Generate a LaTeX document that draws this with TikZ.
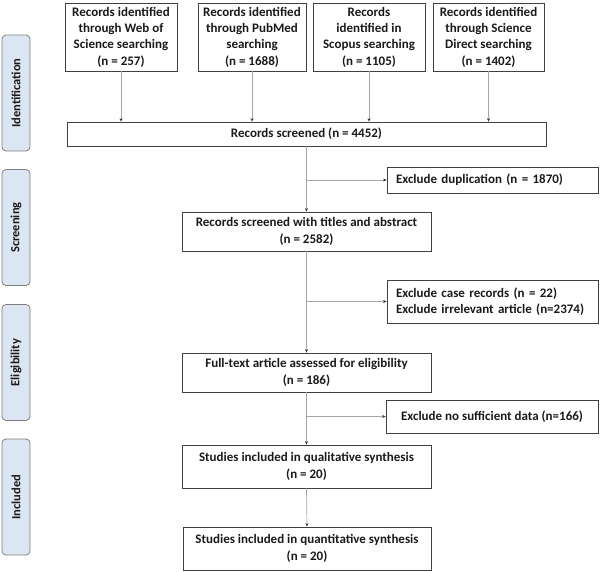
\documentclass[tikz,border=0pt]{standalone}
\usepackage{fontspec}
\setmainfont{Carlito}
\usetikzlibrary{arrows.meta}
\definecolor{tabfill}{HTML}{DCE6F2}
\definecolor{tabline}{HTML}{7F7F7F}
\definecolor{boxline}{HTML}{404040}
\definecolor{lineg}{HTML}{A6A6A6}
\definecolor{txt}{HTML}{1A1A1A}
\begin{document}
\begin{tikzpicture}[x=1pt,y=-1pt,
  box/.style={draw=boxline,line width=0.8pt,inner sep=0pt,align=center,text=txt,
    font=\bfseries\fontsize{13}{16.3}\selectfont},
  tab/.style={draw=tabline,fill=tabfill,line width=0.8pt,rounded corners=4pt,rotate=90,
    minimum width=116pt,minimum height=28pt,inner sep=0pt,text=txt,
    font=\bfseries\fontsize{12.5}{15}\selectfont},
  conn/.style={draw=lineg,line width=0.7pt,-{Stealth[length=3.5pt,width=3pt,color=black!80]}},
  plain/.style={draw=lineg,line width=0.7pt}]
\useasboundingbox (0,0) rectangle (600,571);
% phase tabs
\node[tab] (t1) at (16,93) {Identification};
\node[tab] (t2) at (16,227.5) {Screening};
\node[tab] (t3) at (16,362.5) {Eligibility};
\node[tab] (t4) at (16,497) {Included};
% top boxes
\node[box,minimum width=112pt,minimum height=68pt] (b1) at (121,37)
  {Records identified\\through Web of\\Science searching\\(n = 257)};
\node[box,minimum width=108pt,minimum height=68pt] (b2) at (252,37)
  {Records identified\\through PubMed\\searching\\(n = 1688)};
\node[box,minimum width=112pt,minimum height=68pt] (b3) at (369,37)
  {Records\\identified in\\Scopus searching\\(n = 1105)};
\node[box,minimum width=111pt,minimum height=68pt] (b4) at (488.5,37)
  {Records identified\\through Science\\Direct searching\\(n = 1402)};
% main column
\node[box,minimum width=479pt,minimum height=24pt] (scr) at (306.5,134)
  {Records screened (n = 4452)};
\node[box,minimum width=249pt,minimum height=39pt] (tit) at (306.5,231.5)
  {Records screened with titles and abstract\\(n = 2582)};
\node[box,minimum width=249pt,minimum height=39pt] (full) at (306.5,372.5)
  {Full-text article assessed for eligibility\\(n = 186)};
\node[box,minimum width=249pt,minimum height=43pt] (qual) at (306.5,466.5)
  {Studies included in qualitative synthesis\\(n = 20)};
\node[box,minimum width=248pt,minimum height=43pt] (quant) at (307,548.5)
  {Studies included in quantitative synthesis\\(n = 20)};
% exclusion boxes
\node[box,minimum width=211pt,minimum height=26pt,text width=193pt,align=left] (dup) at (492.5,180)
  {Exclude duplication (n = 1870)};
\node[box,minimum width=211pt,minimum height=43pt,text width=193pt,align=left] (case) at (492.5,301.5)
  {Exclude case records (n = 22)\\Exclude irrelevant article (n=2374)};
\node[box,minimum width=212pt,minimum height=33pt] (nosuf) at (492,416.5)
  {Exclude no sufficient data (n=166)};
% connectors
\foreach \b in {b1,b2,b3,b4} \draw[conn] (\b.south) -- (\b.south |- scr.north);
\coordinate (j1) at (scr.south |- dup.west);
\coordinate (j2) at (tit.south |- case.west);
\coordinate (j3) at (full.south |- nosuf.west);
\draw[conn] (scr.south) -- (tit.north);
\draw[conn] (tit.south) -- (full.north);
\draw[conn] (full.south) -- (qual.north);
\draw[conn] (qual.south) -- (quant.north);
\draw[conn] (j1) -- (dup.west);
\draw[conn] (j2) -- (case.west);
\draw[conn] (j3) -- (nosuf.west);
\end{tikzpicture}
\end{document}
